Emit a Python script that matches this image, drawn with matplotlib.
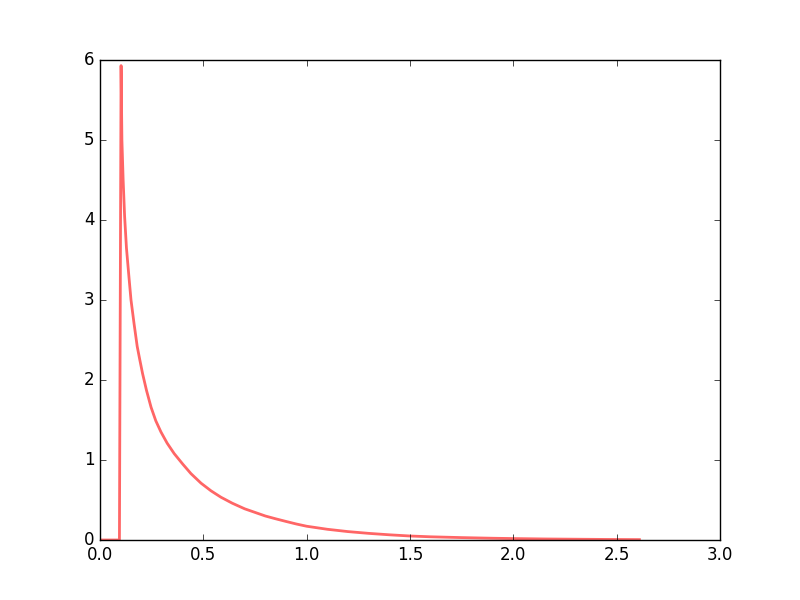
import matplotlib
matplotlib.use("Agg")
import matplotlib.pyplot as plt

plt.style.use("classic")

# curve values
xs = [0.0, 0.094, 0.102, 0.106, 0.112, 0.119, 0.128, 0.140, 0.150, 0.165,
      0.180, 0.192, 0.206, 0.225, 0.247, 0.270, 0.295, 0.325, 0.359, 0.400,
      0.440, 0.489, 0.537, 0.585, 0.640, 0.700, 0.750, 0.800, 0.850, 0.900,
      0.950, 1.000, 1.100, 1.200, 1.300, 1.400, 1.500, 1.600, 1.750, 1.900,
      2.000, 2.150, 2.300, 2.450, 2.610]
ys = [0.0, 0.0, 5.93, 5.00, 4.50, 4.05, 3.65, 3.29, 3.00, 2.70,
      2.42, 2.26, 2.08, 1.87, 1.66, 1.49, 1.35, 1.21, 1.08, 0.95,
      0.83, 0.71, 0.615, 0.535, 0.46, 0.39, 0.345, 0.300, 0.265, 0.232,
      0.200, 0.172, 0.134, 0.105, 0.083, 0.065, 0.050, 0.040, 0.030, 0.022,
      0.018, 0.013, 0.010, 0.007, 0.005]

fig, ax = plt.subplots(figsize=(8, 6))
ax.plot(xs, ys, "r-", lw=2, alpha=0.6)
ax.set_xlim(0, 3)
ax.set_ylim(0, 6)
fig.savefig("out.png", dpi=100)
